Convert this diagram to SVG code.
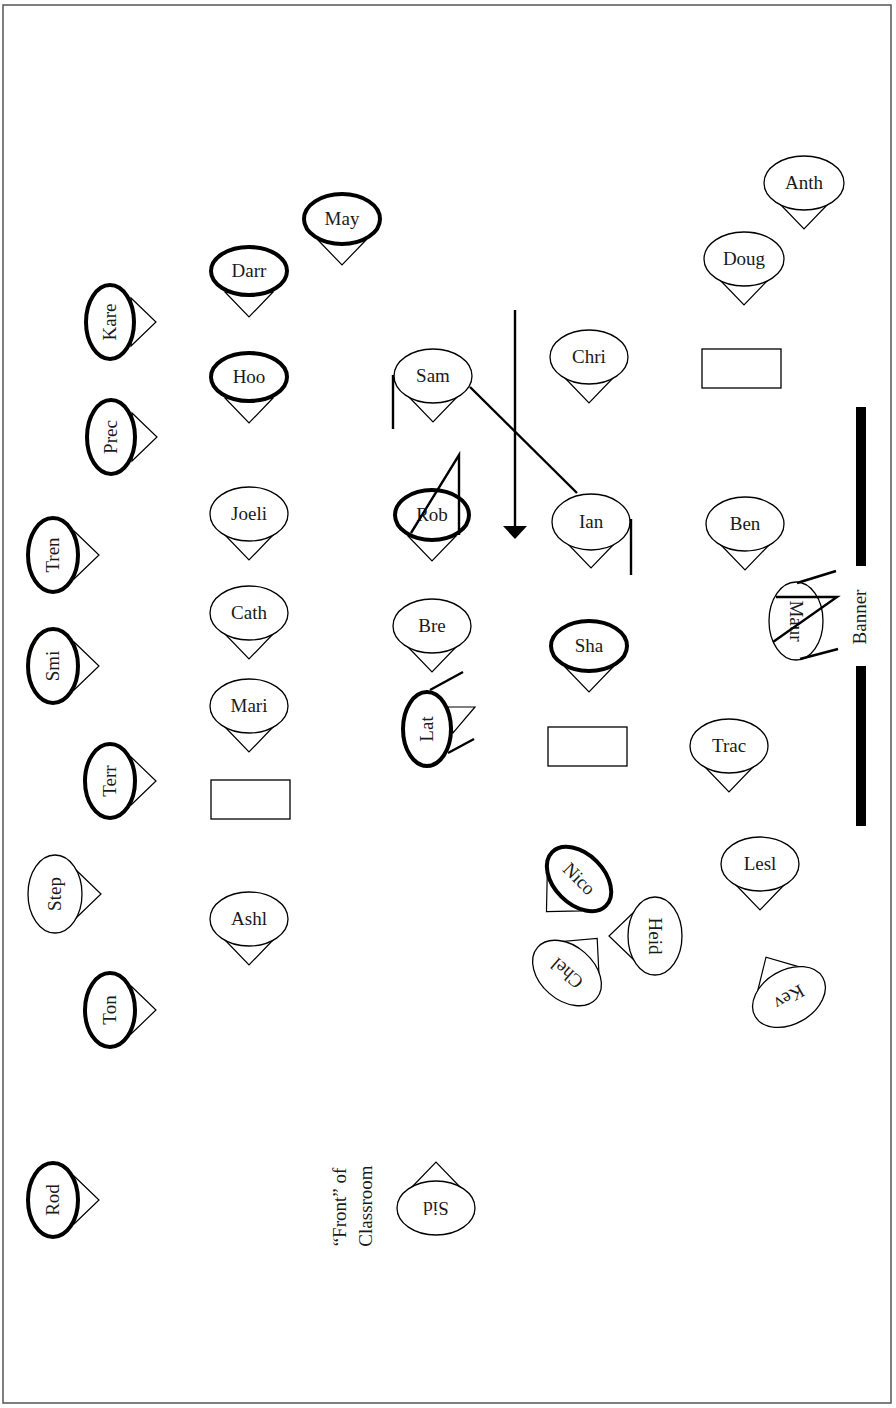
<svg xmlns="http://www.w3.org/2000/svg" width="896" height="1408" viewBox="0 0 896 1408">
<style>
.frame{fill:#fff;stroke:#555;stroke-width:1.5}
.tri{fill:#fff;stroke:#000;stroke-width:1.2}
.el{fill:#fff;stroke:#000;stroke-width:1.3}
.bold{stroke-width:4}
.lbl{font-family:"Liberation Serif","Times New Roman",serif;font-size:19px;fill:#1a1a1a;text-anchor:middle}
.desk{fill:#fff;stroke:#000;stroke-width:1.3}
.mark{fill:none;stroke:#000;stroke-width:2.4}
.bar{fill:#000}
</style>
<defs>
<polygon id="t" class="tri" points="-24,21 0,46 24,21"/>
</defs>
<rect class="frame" x="3" y="5" width="888" height="1398"/>

<g id="connectors">
<line class="mark" x1="470" y1="387" x2="577" y2="493"/>
<line class="mark" x1="515" y1="310" x2="515" y2="527"/>
<polygon points="503,526 527,526 515,539" fill="#000"/>
</g>

<g id="anth" transform="translate(804,183)"><use href="#t"/><ellipse class="el" rx="40" ry="27"/><text class="lbl" y="6">Anth</text></g>
<g id="doug" transform="translate(744,259)"><use href="#t"/><ellipse class="el" rx="40" ry="27"/><text class="lbl" y="6">Doug</text></g>
<g id="may" transform="translate(342,219)"><use href="#t"/><ellipse class="el bold" rx="38" ry="25"/><text class="lbl" y="6">May</text></g>
<g id="darr" transform="translate(249,271)"><use href="#t"/><ellipse class="el bold" rx="38" ry="24"/><text class="lbl" y="6">Darr</text></g>
<g id="hoo" transform="translate(249,377)"><use href="#t"/><ellipse class="el bold" rx="38" ry="24"/><text class="lbl" y="6">Hoo</text></g>
<g id="sam" transform="translate(433,376)"><use href="#t"/><ellipse class="el" rx="39" ry="27"/><text class="lbl" y="6">Sam</text></g>
<line class="mark" x1="393" y1="375" x2="393" y2="429"/>
<g id="chri" transform="translate(589,357)"><use href="#t"/><ellipse class="el" rx="39" ry="27"/><text class="lbl" y="6">Chri</text></g>
<rect id="desk1" class="desk" x="702" y="349" width="79" height="39"/>
<g id="joeli" transform="translate(249,514)"><use href="#t"/><ellipse class="el" rx="39" ry="27"/><text class="lbl" y="6">Joeli</text></g>
<g id="rob">
<g transform="translate(432,515)"><use href="#t"/><ellipse class="el bold" rx="37" ry="25"/><text class="lbl" y="6">Rob</text></g>
<polyline class="mark" points="411,533 459,455 459,535"/>
</g>
<g id="ian">
<g transform="translate(591,522)"><use href="#t"/><ellipse class="el" rx="39" ry="28"/><text class="lbl" y="6">Ian</text></g>
<line class="mark" x1="631" y1="519" x2="631" y2="575"/>
</g>
<g id="ben" transform="translate(745,524)"><use href="#t"/><ellipse class="el" rx="39" ry="27"/><text class="lbl" y="6">Ben</text></g>
<g id="cath" transform="translate(249,613)"><use href="#t"/><ellipse class="el" rx="39" ry="27"/><text class="lbl" y="6">Cath</text></g>
<g id="bre" transform="translate(432,626)"><use href="#t"/><ellipse class="el" rx="39" ry="27"/><text class="lbl" y="6">Bre</text></g>
<g id="sha" transform="translate(589,646)"><use href="#t"/><ellipse class="el bold" rx="38" ry="25"/><text class="lbl" y="6">Sha</text></g>
<g id="mari" transform="translate(249,706)"><use href="#t"/><ellipse class="el" rx="39" ry="27"/><text class="lbl" y="6">Mari</text></g>
<g id="lat">
<polygon class="tri" points="448,707 475,707 453,733"/>
<g transform="translate(427,729) rotate(-90)"><ellipse class="el bold" rx="37" ry="24"/><text class="lbl" y="6">Lat</text></g>
<line class="mark" x1="430" y1="690" x2="463" y2="672"/>
<line class="mark" x1="448" y1="753" x2="474" y2="739"/>
</g>
<rect id="desk2" class="desk" x="548" y="727" width="79" height="39"/>
<rect id="desk3" class="desk" x="211" y="780" width="79" height="39"/>
<g id="trac" transform="translate(729,746)"><use href="#t"/><ellipse class="el" rx="39" ry="27"/><text class="lbl" y="6">Trac</text></g>
<g id="lesl" transform="translate(760,864)"><use href="#t"/><ellipse class="el" rx="39" ry="27"/><text class="lbl" y="6">Lesl</text></g>
<g id="ashl" transform="translate(249,919)"><use href="#t"/><ellipse class="el" rx="39" ry="27"/><text class="lbl" y="6">Ashl</text></g>

<g id="maur">
<g transform="translate(796,621) rotate(90)"><ellipse class="el" rx="39" ry="27"/><text class="lbl" y="6">Maur</text></g>
<line class="mark" x1="797" y1="583" x2="836" y2="571"/>
<polyline class="mark" points="776,597 837,597 773,642"/>
<line class="mark" x1="800" y1="659" x2="838" y2="649"/>
</g>

<g id="banner">
<rect class="bar" x="856" y="407" width="10" height="159"/>
<rect class="bar" x="856" y="666" width="10" height="160"/>
<text class="lbl" transform="translate(866,617) rotate(-90)">Banner</text>
</g>

<g id="nico" transform="translate(579,879) rotate(45)"><use href="#t"/><ellipse class="el bold" rx="38" ry="25"/><text class="lbl" y="6">Nico</text></g>
<g id="heid" transform="translate(655,936) rotate(90)"><use href="#t"/><ellipse class="el" rx="39" ry="27"/><text class="lbl" y="6">Heid</text></g>
<g id="chel" transform="translate(567,973) rotate(221)"><use href="#t"/><ellipse class="el" rx="39" ry="27"/><text class="lbl" y="6">Chel</text></g>
<g id="kev" transform="translate(789,997) rotate(150)"><use href="#t"/><ellipse class="el" rx="39" ry="27"/><text class="lbl" y="6">Kev</text></g>
<g id="sid" transform="translate(436,1208) rotate(180)"><use href="#t"/><ellipse class="el" rx="39" ry="27"/><text class="lbl" y="6">Sid</text></g>

<g id="kare" transform="translate(110,322) rotate(-90)"><use href="#t"/><ellipse class="el bold" rx="37" ry="24"/><text class="lbl" y="6">Kare</text></g>
<g id="prec" transform="translate(111,437) rotate(-90)"><use href="#t"/><ellipse class="el bold" rx="37" ry="24"/><text class="lbl" y="6">Prec</text></g>
<g id="tren" transform="translate(53,555) rotate(-90)"><use href="#t"/><ellipse class="el bold" rx="37" ry="25"/><text class="lbl" y="6">Tren</text></g>
<g id="smi" transform="translate(53,666) rotate(-90)"><use href="#t"/><ellipse class="el bold" rx="37" ry="25"/><text class="lbl" y="6">Smi</text></g>
<g id="terr" transform="translate(110,781) rotate(-90)"><use href="#t"/><ellipse class="el bold" rx="37" ry="25"/><text class="lbl" y="6">Terr</text></g>
<g id="step" transform="translate(55,894) rotate(-90)"><use href="#t"/><ellipse class="el" rx="39" ry="27"/><text class="lbl" y="6">Step</text></g>
<g id="ton" transform="translate(110,1010) rotate(-90)"><use href="#t"/><ellipse class="el bold" rx="37" ry="25"/><text class="lbl" y="6">Ton</text></g>
<g id="rod" transform="translate(53,1200) rotate(-90)"><use href="#t"/><ellipse class="el bold" rx="37" ry="25"/><text class="lbl" y="6">Rod</text></g>

<g id="front-label">
<text class="lbl" transform="translate(346,1207) rotate(-90)">“Front” of</text>
<text class="lbl" transform="translate(372,1206) rotate(-90)">Classroom</text>
</g>
</svg>
